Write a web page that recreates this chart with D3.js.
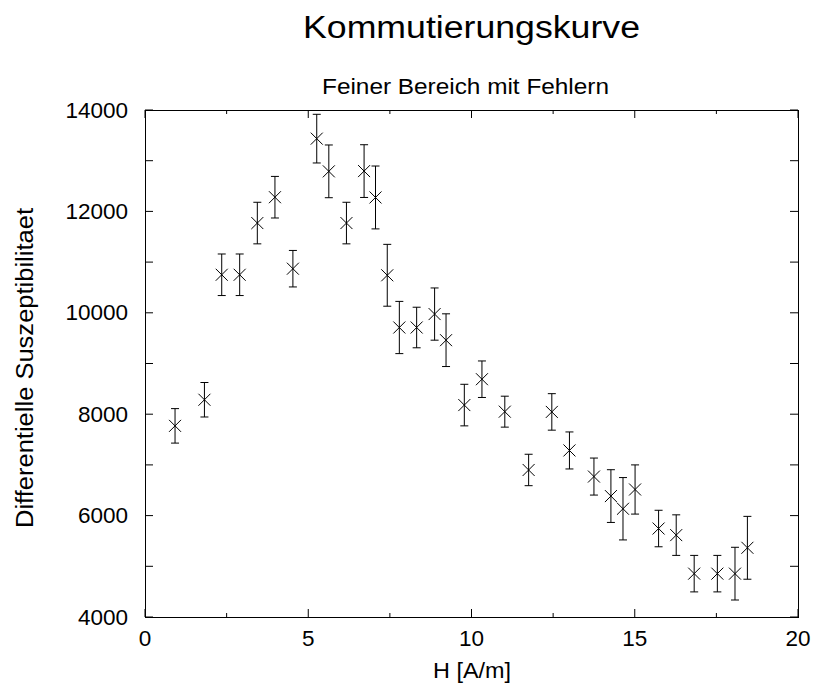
<!DOCTYPE html>
<html><head><meta charset="utf-8">
<script src="https://cdn.jsdelivr.net/npm/d3@7"></script>
<style>body{margin:0;background:#fff}svg{display:block}text{font-family:"Liberation Sans",Arial,Helvetica,sans-serif;fill:#000}</style>
</head><body>
<svg id="c" width="817" height="687"></svg>
<script>
const hValues = [0.92,1.82,2.35,2.9,3.44,3.98,4.53,5.26,5.63,6.17,6.71,7.06,7.42,7.79,8.32,8.87,9.22,9.78,10.32,11.02,11.75,12.46,13.0,13.75,14.27,14.64,15.01,15.73,16.27,16.82,17.53,18.07,18.45];
const chiValues = [7770,8285,10750,10750,11770,12280,10870,13435,12790,11770,12795,12275,10740,9710,9710,9975,9460,8180,8690,8050,6900,8045,7285,6770,6385,6135,6515,5745,5615,4855,4855,4855,5365];
const chiErrors = [340,340,410,410,410,410,360,480,520,410,520,620,610,515,400,515,520,410,360,305,310,360,365,365,520,615,485,360,400,360,360,520,620];
const xTicks = [0,5,10,15,20];
const xMinorTicks = [2.5,7.5,12.5,17.5];
const yTicks = [4000,6000,8000,10000,12000,14000];
const yMinorTicks = [5000,7000,9000,11000,13000];

const svg = d3.select("#c");
const L=145, R=798, T=110, B=617;
const x = d3.scaleLinear().domain([0,20]).range([L,R]);
const y = d3.scaleLinear().domain([4000,14000]).range([B,T]);

const g = svg.append("g").attr("stroke","#000").attr("stroke-width",1).attr("fill","none");
g.append("rect").attr("x",L).attr("y",T).attr("width",R-L).attr("height",B-T).attr("shape-rendering","crispEdges");

xTicks.forEach(v=>{
  g.append("line").attr("x1",x(v)).attr("x2",x(v)).attr("y1",B).attr("y2",B-8);
  g.append("line").attr("x1",x(v)).attr("x2",x(v)).attr("y1",T).attr("y2",T+8);
});
xMinorTicks.forEach(v=>{
  g.append("line").attr("x1",x(v)).attr("x2",x(v)).attr("y1",B).attr("y2",B-4);
  g.append("line").attr("x1",x(v)).attr("x2",x(v)).attr("y1",T).attr("y2",T+4);
});
yTicks.concat(yMinorTicks).forEach(v=>{
  g.append("line").attr("y1",y(v)).attr("y2",y(v)).attr("x1",L).attr("x2",L+8);
  g.append("line").attr("y1",y(v)).attr("y2",y(v)).attr("x1",R).attr("x2",R-8);
});

svg.selectAll(".xl").data(xTicks).enter().append("text")
  .attr("x",d=>x(d)).attr("y",B+29).attr("text-anchor","middle").attr("font-size","22.5px").text(d=>d);
svg.selectAll(".yl").data(yTicks).enter().append("text")
  .attr("x",L-17).attr("y",d=>y(d)+7.5).attr("text-anchor","end").attr("font-size","22.5px").text(d=>d);

svg.append("text").attr("x",471.5).attr("y",38).attr("text-anchor","middle").attr("font-size","31px")
  .attr("textLength",337).attr("lengthAdjust","spacingAndGlyphs").text("Kommutierungskurve");
svg.append("text").attr("x",465.5).attr("y",94).attr("text-anchor","middle").attr("font-size","22px")
  .attr("textLength",287).attr("lengthAdjust","spacingAndGlyphs").text("Feiner Bereich mit Fehlern");
svg.append("text").attr("x",472).attr("y",678).attr("text-anchor","middle").attr("font-size","22px")
  .attr("textLength",78).attr("lengthAdjust","spacingAndGlyphs").text("H [A/m]");
svg.append("text").attr("transform","translate(33,368) rotate(-90)").attr("text-anchor","middle").attr("font-size","23px")
  .attr("textLength",320).attr("lengthAdjust","spacingAndGlyphs").text("Differentielle Suszeptibilitaet");

const data = hValues.map((h,i)=>({h, c:chiValues[i], e:chiErrors[i]}));
const pts = g.selectAll(".p").data(data).enter().append("g");
pts.append("line").attr("x1",d=>x(d.h)).attr("x2",d=>x(d.h)).attr("y1",d=>y(d.c+d.e)).attr("y2",d=>y(d.c-d.e));
pts.append("line").attr("x1",d=>x(d.h)-4).attr("x2",d=>x(d.h)+4).attr("y1",d=>y(d.c+d.e)).attr("y2",d=>y(d.c+d.e));
pts.append("line").attr("x1",d=>x(d.h)-4).attr("x2",d=>x(d.h)+4).attr("y1",d=>y(d.c-d.e)).attr("y2",d=>y(d.c-d.e));
const s=6;
pts.append("line").attr("x1",d=>x(d.h)-s).attr("x2",d=>x(d.h)+s).attr("y1",d=>y(d.c)-s).attr("y2",d=>y(d.c)+s);
pts.append("line").attr("x1",d=>x(d.h)-s).attr("x2",d=>x(d.h)+s).attr("y1",d=>y(d.c)+s).attr("y2",d=>y(d.c)-s);
</script>
</body></html>
